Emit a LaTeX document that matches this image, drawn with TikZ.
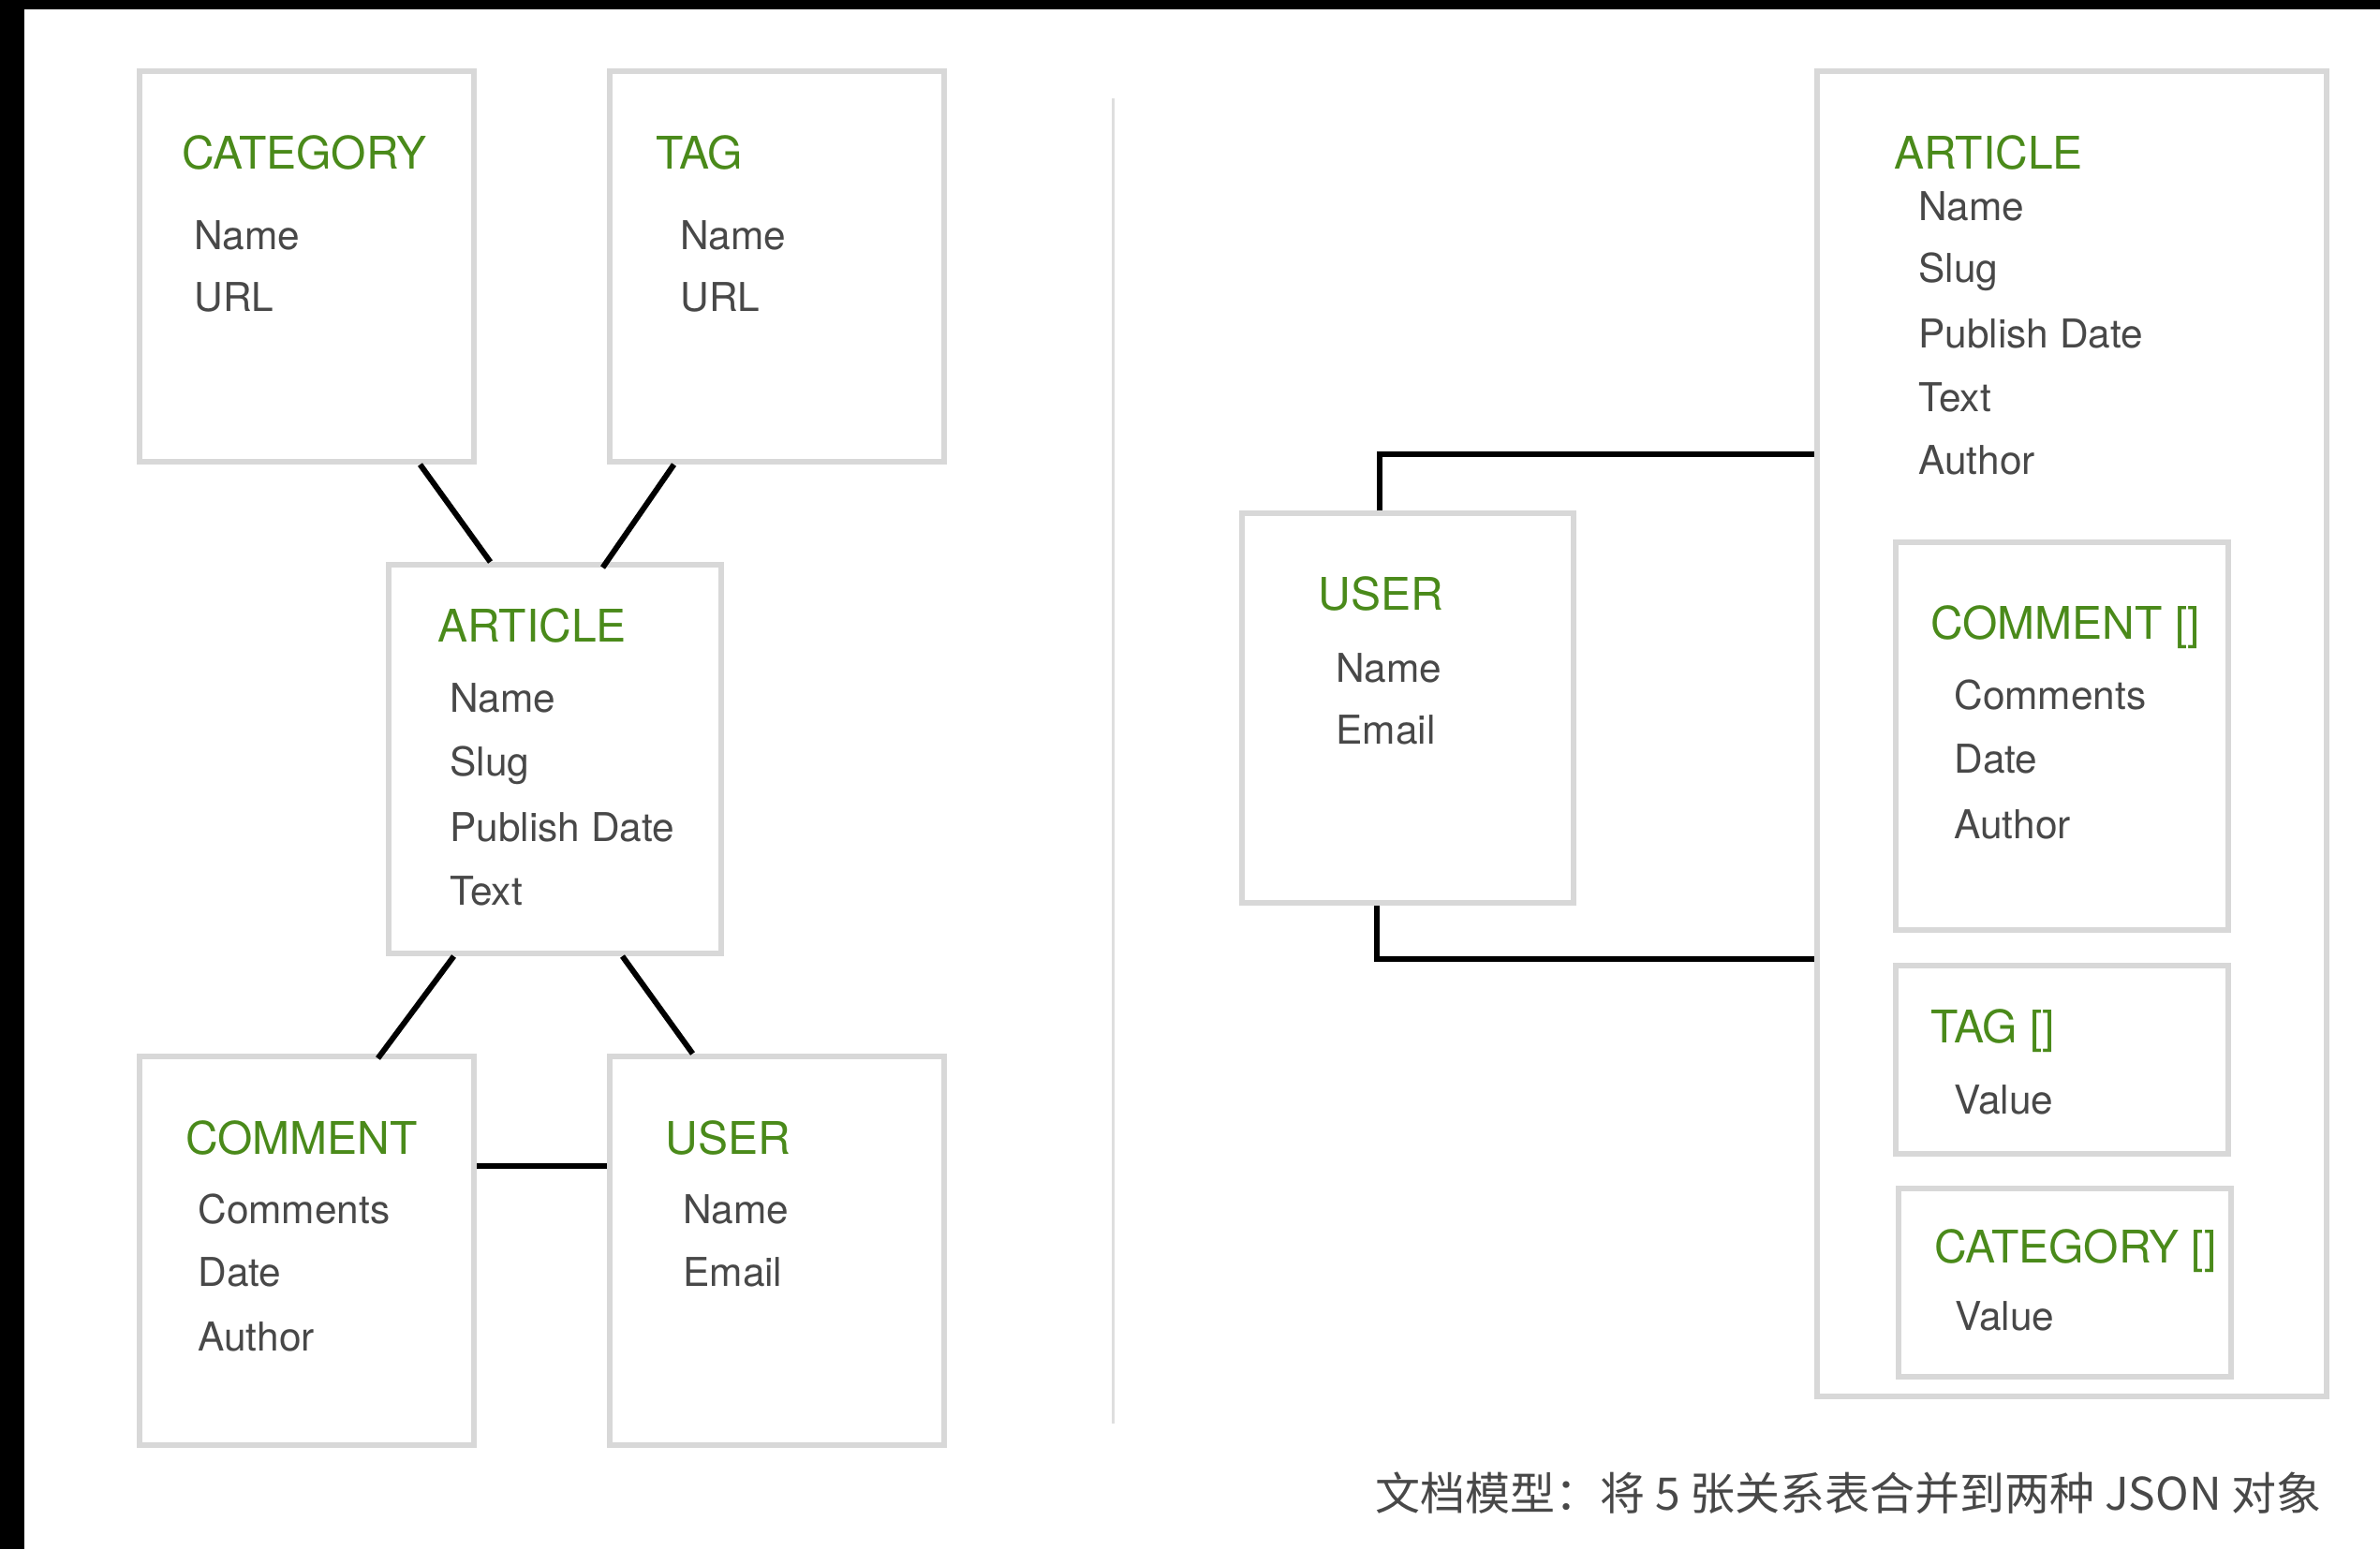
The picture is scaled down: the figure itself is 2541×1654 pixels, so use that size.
\documentclass[tikz,border=0pt]{standalone}
\usepackage{fontspec}
\setmainfont{TeX Gyre Heros}
\newfontfamily\cjk{Noto Sans CJK SC}
\usetikzlibrary{fit,calc}
\definecolor{hdgreen}{RGB}{74,138,26}
\definecolor{bodygray}{RGB}{72,72,72}
\definecolor{boxgray}{RGB}{216,216,216}
\definecolor{divgray}{RGB}{222,222,222}
\tikzset{
  ebox/.style={draw=boxgray, line width=3pt, inner sep=0pt, rectangle},
  hd/.style={anchor=base west, inner sep=0pt, text=hdgreen, font=\fontsize{24pt}{28pt}\selectfont},
  fld/.style={anchor=base west, inner sep=0pt, text=bodygray, font=\fontsize{21.2pt}{25pt}\selectfont},
  link/.style={draw=black, line width=3pt},
}
\begin{document}
\begin{tikzpicture}[x=0.5pt,y=-0.5pt]
\useasboundingbox (0,0) rectangle (2541,1654);
\fill[white] (0,0) rectangle (2541,1654);
\fill[black] (0,0) rectangle (26,1654);
\fill[black] (0,0) rectangle (2541,10);

% ---------- left: relational model ----------
\node[ebox, fit={(149,76) (506,493)}] (cat) {};
\node[ebox, fit={(651,76) (1008,493)}] (tag) {};
\node[ebox, fit={(415,603) (770,1018)}] (art) {};
\node[ebox, fit={(149,1128) (506,1543)}] (com) {};
\node[ebox, fit={(651,1128) (1008,1543)}] (usr) {};

\node[hd] (catH) at (194,180) {CATEGORY};
\node[fld] (catN) at (207,266) {Name};
\node[fld] (catU) at (207,332) {URL};

\node[hd] (tagH) at (700,180) {TAG};
\node[fld] (tagN) at (726,266) {Name};
\node[fld] (tagU) at (726,332) {URL};

\node[hd] (artH) at (467,685) {ARTICLE};
\node[fld] (artN) at (480,760) {Name};
\node[fld] (artS) at (480,828) {Slug};
\node[fld] (artP) at (480,898) {Publish Date};
\node[fld] (artT) at (480,966) {Text};

\node[hd] (comH) at (198,1232) {COMMENT};
\node[fld] (comC) at (211,1306) {Comments};
\node[fld] (comD) at (211,1373) {Date};
\node[fld] (comA) at (211,1442) {Author};

\node[hd] (usrH) at (710,1232) {USER};
\node[fld] (usrN) at (729,1306) {Name};
\node[fld] (usrE) at (729,1373) {Email};

\draw[link] ($(cat.south)+(121,0)$) -- ($(art.north)+(-69,0)$);
\draw[link] ($(tag.south)+(-110,0)$) -- ($(art.north)+(51,6)$);
\draw[link] ($(art.south)+(-108,0)$) -- ($(com.north)+(76,5)$);
\draw[link] ($(art.south)+(72,0)$) -- ($(usr.north)+(-90,0)$);
\draw[link] ($(com.east)+(0,-91)$) -- ($(usr.west)+(0,-91)$);

% divider
\coordinate (divtop) at (1188,105);
\coordinate (divbot) at (1188,1520);
\draw[draw=divgray, line width=1.5pt] (divtop) -- (divbot);

% ---------- right: document model ----------
\node[ebox, fit={(1940,76) (2484,1491)}] (doc) {};
\node[ebox, fit={(1326,548) (1680,964)}] (usr2) {};
\node[ebox, fit={(2024,579) (2379,993)}] (com2) {};
\node[ebox, fit={(2024,1031) (2379,1232)}] (tag2) {};
\node[ebox, fit={(2027,1269) (2382,1470)}] (cat2) {};

\node[hd] (docH) at (2022,180) {ARTICLE};
\node[fld] (docN) at (2048,235) {Name};
\node[fld] (docS) at (2048,301) {Slug};
\node[fld] (docP) at (2048,371) {Publish Date};
\node[fld] (docT) at (2048,439) {Text};
\node[fld] (docA) at (2048,506) {Author};

\node[hd] (usr2H) at (1407,651) {USER};
\node[fld] (usr2N) at (1426,728) {Name};
\node[fld] (usr2E) at (1426,794) {Email};

\node[hd] (com2H) at (2061,682) {COMMENT []};
\node[fld] (com2C) at (2086,757) {Comments};
\node[fld] (com2D) at (2086,825) {Date};
\node[fld] (com2A) at (2086,895) {Author};

\node[hd] (tag2H) at (2061,1113) {TAG []};
\node[fld] (tag2V) at (2086,1189) {Value};

\node[hd] (cat2H) at (2065,1348) {CATEGORY []};
\node[fld] (cat2V) at (2087,1420) {Value};

\draw[link] ($(usr2.north)+(-30,0)$) |- ($(doc.west)+(0,-298.5)$);
\draw[link] ($(usr2.south)+(-33,0)$) |- ($(doc.west)+(0,240.5)$);

% caption
\node[anchor=base east, inner sep=0pt, text=bodygray, font=\cjk\fontsize{24pt}{30pt}\selectfont] (cap) at (2479,1612) {文档模型：将 5 张关系表合并到两种 JSON 对象};
\end{tikzpicture}
\end{document}
